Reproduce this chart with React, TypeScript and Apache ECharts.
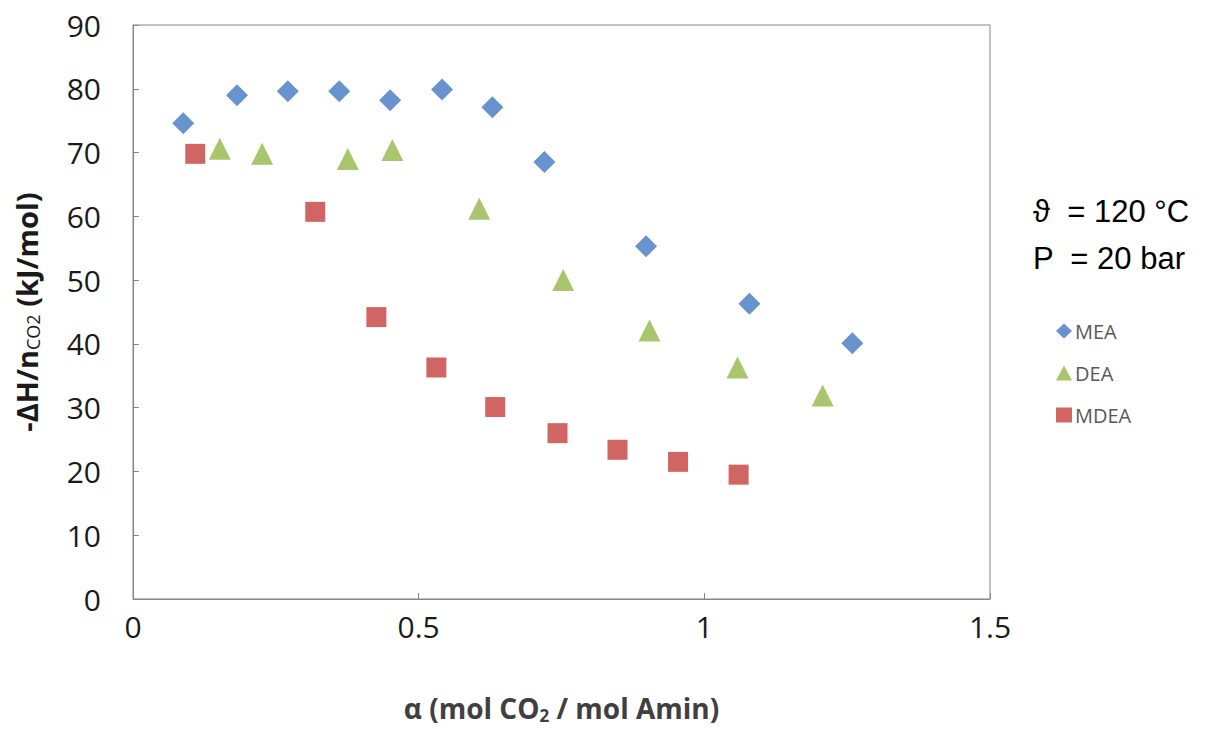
import React, { useEffect, useRef } from "react";
import * as echarts from "echarts";

const meaX = [0.088, 0.182, 0.271, 0.361, 0.45, 0.541, 0.629, 0.72, 0.898, 1.079, 1.259];
const meaY = [74.6, 79.0, 79.6, 79.6, 78.2, 79.9, 77.1, 68.5, 55.3, 46.3, 40.1];
const deaX = [0.152, 0.226, 0.376, 0.454, 0.606, 0.753, 0.904, 1.058, 1.207];
const deaY = [70.6, 69.8, 69.0, 70.4, 61.2, 50.0, 42.1, 36.3, 31.9];
const mdeaX = [0.109, 0.319, 0.426, 0.531, 0.634, 0.743, 0.848, 0.954, 1.06];
const mdeaY = [69.8, 60.7, 44.2, 36.3, 30.1, 26.0, 23.4, 21.5, 19.5];
const annotations = ["\u03D1  = 120 \u00B0C", "P  = 20 bar"];

const zip = (xs: number[], ys: number[]) => xs.map((x, i) => [x, ys[i]]);

export default function App() {
  const ref = useRef<HTMLDivElement>(null);
  useEffect(() => {
    if (!ref.current) return;
    const chart = echarts.init(ref.current, undefined, { renderer: "svg" });
    const font = "Open Sans";
    chart.setOption({
      animation: false,
      backgroundColor: "#fff",
      grid: { left: 133, top: 25, right: 221, bottom: 126, show: true, borderColor: "#868686", borderWidth: 1 },
      xAxis: {
        type: "value",
        min: 0,
        max: 1.5,
        interval: 0.5,
        splitLine: { show: false },
        axisLine: { lineStyle: { color: "#868686" } },
        axisTick: { inside: true, length: 6, lineStyle: { color: "#868686" } },
        axisLabel: { color: "#1a1a1a", fontSize: 30, fontFamily: font, margin: 12 },
        name: "{b|\u03B1 (mol CO}{s|2}{b| / mol Amin)}",
        nameLocation: "middle",
        nameGap: 92,
        nameTextStyle: {
          rich: {
            b: { fontSize: 28, fontWeight: "bold", fontFamily: font, color: "#404040" },
            s: { fontSize: 17, fontWeight: "bold", fontFamily: font, color: "#404040", padding: [16, 0, 0, 0] },
          },
        },
      },
      yAxis: {
        type: "value",
        min: 0,
        max: 90,
        interval: 10,
        splitLine: { show: false },
        axisLine: { show: true, lineStyle: { color: "#868686" } },
        axisTick: { show: true, inside: true, length: 6, lineStyle: { color: "#868686" } },
        axisLabel: { color: "#1a1a1a", fontSize: 30, fontFamily: font, margin: 32 },
        name: "{b|-\u0394H/n}{s|CO2}{b| (kJ/mol)}",
        nameLocation: "middle",
        nameGap: 91,
        nameTextStyle: {
          rich: {
            b: { fontSize: 29, fontWeight: "bold", fontFamily: font, color: "#1a1a1a" },
            s: { fontSize: 18, fontFamily: font, color: "#1a1a1a", padding: [14, 0, 0, 0] },
          },
        },
      },
      legend: {
        orient: "vertical",
        left: 1051,
        top: 316,
        itemGap: 22,
        itemWidth: 16,
        itemHeight: 15,
        textStyle: { color: "#595959", fontSize: 20, fontFamily: font, padding: [0, 0, 0, -2] },
        data: [
          { name: "MEA", icon: "diamond" },
          { name: "DEA", icon: "triangle" },
          { name: "MDEA", icon: "rect" },
        ],
      },
      graphic: annotations.map((t, i) => ({
        type: "text",
        left: 1033,
        top: 196 + i * 47,
        style: { text: t, fontSize: 31, fontFamily: "Liberation Sans", fill: "#000" },
      })),
      series: [
        { name: "MEA", type: "scatter", symbol: "diamond", symbolSize: 22, itemStyle: { color: "#4478C2" }, data: zip(meaX, meaY) },
        { name: "DEA", type: "scatter", symbol: "triangle", symbolSize: 22, itemStyle: { color: "#93B84B" }, data: zip(deaX, deaY) },
        { name: "MDEA", type: "scatter", symbol: "rect", symbolSize: 20, itemStyle: { color: "#C63F3D" }, data: zip(mdeaX, mdeaY) },
      ],
    });
    return () => chart.dispose();
  }, []);
  return <div ref={ref} style={{ width: 1211, height: 729, position: "absolute", left: 0, top: 0 }} />;
}
